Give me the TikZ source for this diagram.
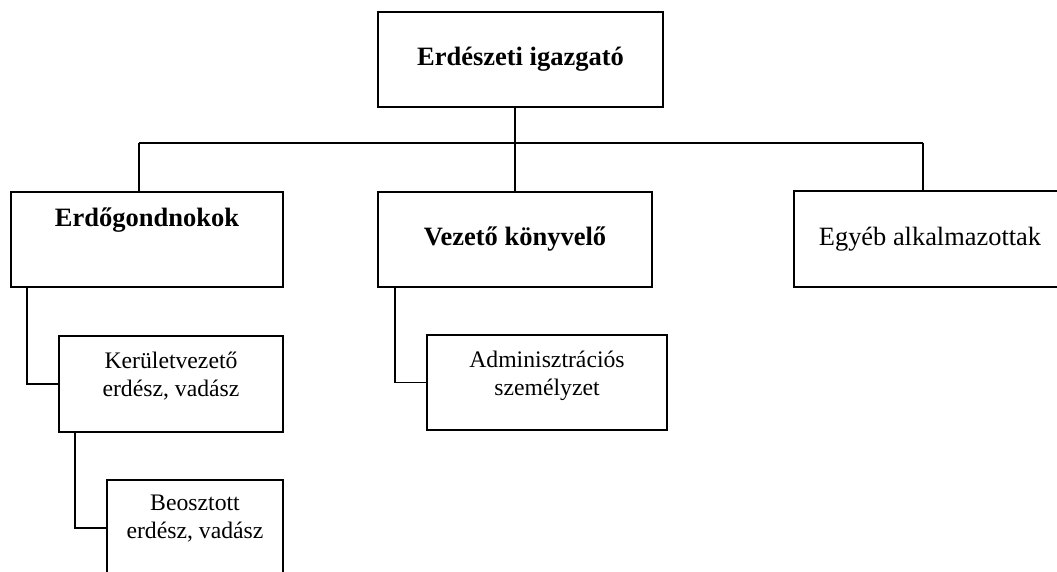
\documentclass[tikz,border=0pt]{standalone}
\usepackage{fontspec}
\setmainfont{Liberation Serif}
\begin{document}
\begin{tikzpicture}[x=1pt,y=-1pt,
  box/.style={draw,line width=1.5pt,inner sep=0pt,outer sep=0pt},
  bigbold/.style={font=\fontsize{26.5}{30}\selectfont\bfseries},
  bigreg/.style={font=\fontsize{26.4}{30}\selectfont},
  small/.style={font=\fontsize{23.7}{28}\selectfont,align=center},
  conn/.style={line width=1.5pt}]
\useasboundingbox (0,0) rectangle (1057,572);
\clip (0,0) rectangle (1057,572);
\node[box,bigbold,minimum width=285pt,minimum height=95pt] (top) at (520.5,59.5) {Erdészeti igazgató};
\node[box,minimum width=272pt,minimum height=95pt,
  label={[bigbold,anchor=center,yshift=-28pt]north:Erdőgondnokok}] (left) at (147,239.5) {};
\node[box,bigbold,minimum width=274pt,minimum height=95pt] (mid) at (515,239.5) {Vezető könyvelő};
\node[box,bigreg,minimum width=272pt,minimum height=96pt] (right) at (930,239) {Egyéb alkalmazottak};
\node[box,minimum width=224pt,minimum height=96pt,
  label={[small,anchor=center,yshift=8pt]center:Kerületvezető\\erdész, vadász}] (ker) at (171,384) {};
\node[box,minimum width=240pt,minimum height=95pt,
  label={[small,anchor=center,yshift=6.5pt]center:Adminisztrációs\\személyzet}] (adm) at (547,382.5) {};
\node[box,minimum width=176pt,minimum height=96pt,
  label={[small,anchor=center,yshift=9.5pt]center:Beosztott\\erdész, vadász}] (beo) at (195,528) {};
\coordinate (hl) at (139,143);
\coordinate (hr) at (923,143);
\coordinate (k1) at (27,383);
\coordinate (k2) at (395,383);
\coordinate (k3) at (75,528);
\draw[conn] (mid.north) -- (mid.north |- top.south);
\draw[conn] (hl) -- (hr);
\draw[conn] (hl) -- (hl |- left.north);
\draw[conn] (hr) -- (hr |- right.north);
\draw[conn] (k1 |- left.south) |- (ker.west);
\draw[conn] (k2 |- mid.south) |- (adm.west);
\draw[conn] (k3 |- ker.south) |- (beo.west);
\end{tikzpicture}
\end{document}
